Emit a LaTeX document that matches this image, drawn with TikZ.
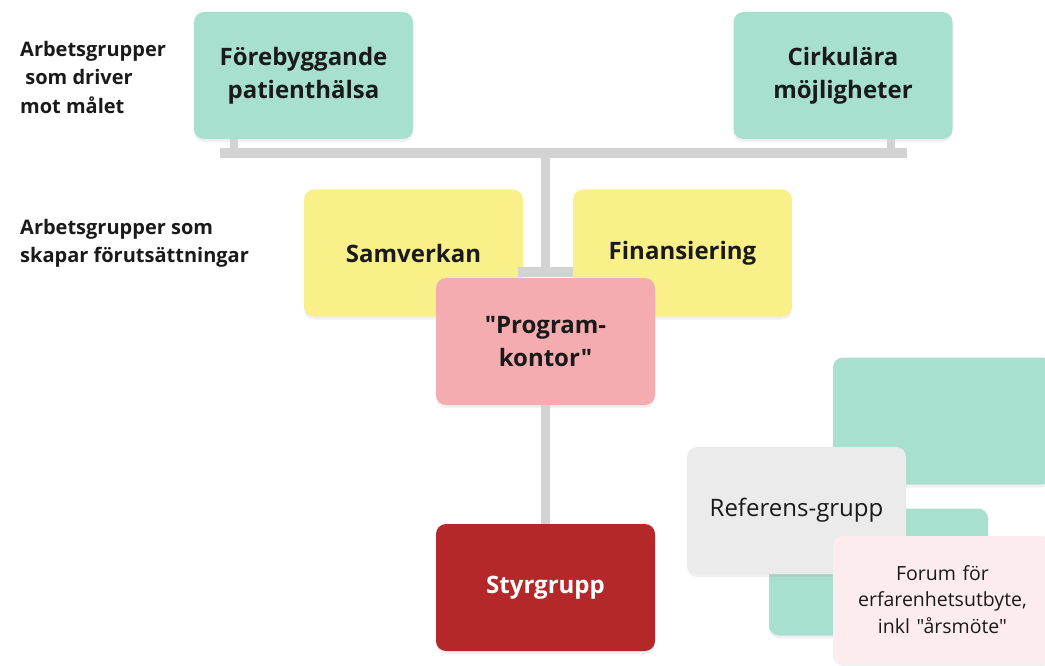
\documentclass[tikz,border=0pt]{standalone}
\usepackage{fontspec}
\setmainfont{Open Sans}[Ligatures=TeXOff]
\usetikzlibrary{shadows}
\definecolor{teal1}{HTML}{A8E0CF}
\definecolor{yel1}{HTML}{FAF08A}
\definecolor{pink1}{HTML}{F4ACB0}
\definecolor{red1}{HTML}{B5282A}
\definecolor{gray1}{HTML}{EBEBEB}
\definecolor{pink2}{HTML}{FDECEE}
\definecolor{conn}{HTML}{D3D3D3}
\definecolor{txt}{HTML}{1A1A1A}
\begin{document}
\begin{tikzpicture}[x=1pt,y=-1pt,
  box/.style={rounded corners=10pt, minimum width=219pt, minimum height=127pt, inner sep=0pt,
    align=center, text=txt, font=\fontsize{24}{33}\selectfont\bfseries,
    drop shadow={shadow xshift=0pt, shadow yshift=-3pt, opacity=0.12}},
  plain/.style={box, font=\fontsize{24}{32}\selectfont},
  small/.style={box, font=\fontsize{19.5}{26.5}\selectfont},
  lbl/.style={anchor=north west, align=left, text=txt, inner sep=0pt, font=\fontsize{20}{28.5}\selectfont\bfseries},
  bar/.style={draw=conn, line width=9.5pt}
]
\useasboundingbox (0,0) rectangle (1045,666);
% top level
\node[box, fill=teal1] (fore) at (303.5,75.5) {Förebyggande\\patienthälsa};
\node[box, fill=teal1] (cirk) at (843,75.5) {Cirkulära\\möjligheter};
\coordinate (barL) at (220,153);
\coordinate (barR) at (907,153);
\coordinate (stemTop) at (545.5,153);
\draw[draw=conn, line width=8pt] (fore.south -| 234,0) -- (234,150);
\draw[draw=conn, line width=8pt] (cirk.south -| 891,0) -- (891,150);
\draw[bar] (barL) -- (barR);
% second level
\node[box, fill=yel1] (samv) at (413.5,253) {Samverkan};
\node[box, fill=yel1] (fin) at (682.5,253) {Finansiering};
\coordinate (capL) at (518,272);
\coordinate (capR) at (573,272);
\coordinate (capM) at (545.5,272);
\draw[bar] (stemTop) -- (capM);
\draw[draw=conn, line width=10pt] (capL) -- (capR);
% program office
\node[box, fill=pink1] (prog) at (545.5,341.5) {"Program-\\kontor"};
\node[box, fill=red1, text=white] (styr) at (545.5,587.5) {Styrgrupp};
\draw[bar] (prog.south) -- (styr.north);
% bottom right cluster
\node[box, fill=teal1] (tbig) at (942.5,421) {};
\node[box, fill=teal1] (tsmall) at (878.5,572) {};
\node[plain, fill=gray1] (ref) at (796.5,510.5) {Referens-grupp};
\node[small, fill=pink2, text width=210pt, minimum width=219pt] (forum) at (942.5,599.5) {Forum för\\erfarenhetsutbyte,\\inkl "årsmöte"};
% left labels
\node[lbl] (l1) at (20,41) {Arbetsgrupper\\ \ som driver\\mot målet};
\node[lbl] (l2) at (20,219) {Arbetsgrupper som\\skapar förutsättningar};
\end{tikzpicture}
\end{document}
